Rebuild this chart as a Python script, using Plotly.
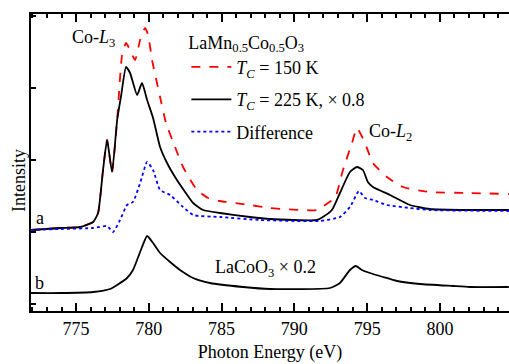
import plotly.graph_objects as go

# ---- data ----
energy_a = [771.9, 773.9, 775.27, 776.17, 776.51, 776.85, 777.13, 777.47, 777.82, 778.09, 778.43,
            778.71, 779.19, 779.53, 779.88, 780.29, 780.77, 781.25, 781.8, 782.49, 783.04, 783.72,
            784.89, 786.95, 788.32, 791.55, 791.96, 792.58, 793.13, 793.82, 794.3, 794.71, 795.05,
            795.4, 796.57, 797.94, 799.31, 802.06, 804.74]
tc225 = [74, 76, 77, 82, 91, 134, 164, 132, 184, 208, 237, 231, 209, 221, 204, 186, 157, 141, 127,
         112, 101, 94, 91, 87, 85, 84, 87, 94, 111, 132, 137, 134, 122, 117, 109, 99, 95, 94, 94]

energy_r = [771.9, 773.9, 775.27, 776.17, 776.51, 776.85, 777.13, 777.47, 777.82, 778.16, 778.43,
            778.71, 779.05, 779.4, 779.74, 779.95, 780.22, 780.77, 781.18, 781.8, 782.35, 783.31,
            784.07, 784.89, 786.95, 788.32, 791.55, 792.1, 792.79, 793.34, 793.96, 794.3, 794.85,
            795.4, 796.36, 797.46, 799.31, 802.06, 804.74]
tc150 = [74, 76, 77, 82, 91, 134, 164, 132, 184, 249, 261, 254, 244, 264, 276, 269, 244, 207, 181,
         157, 137, 114, 106, 103, 99, 96, 94, 99, 106, 134, 161, 176, 161, 141, 127, 117, 112, 111, 110]

energy_d = [771.9, 773.9, 776.17, 777.13, 777.54, 778.02, 778.5, 778.91, 779.4, 779.88, 780.29,
            780.77, 781.46, 782.35, 783.04, 784.89, 787.64, 791.76, 793.13, 793.82, 794.44, 794.85,
            795.4, 796.36, 797.94, 799.31, 804.74]
diff = [74, 75, 76, 78, 72, 84, 99, 102, 121, 142, 134, 114, 109, 97, 89, 87, 84, 83, 87, 97, 113,
        106, 104, 99, 96, 94, 93]

energy_b = [771.9, 773.9, 776.17, 777.34, 777.82, 778.5, 778.91, 779.53, 779.88, 780.29, 780.77,
            781.46, 782.14, 783.04, 784.2, 786.47, 788.32, 792.45, 793.13, 793.82, 794.23, 794.64,
            795.19, 796.09, 797.05, 798.63, 800.89, 802.06, 804.74]
lacoo3 = [11, 11, 12, 15, 19, 26, 34, 57, 68, 61, 51, 42, 34, 26, 21, 17, 15, 16, 21, 34, 38, 34,
          31, 27, 23, 20, 18, 17, 17]

FONT = "Times New Roman, Liberation Serif, serif"

fig = go.Figure()
fig.add_trace(go.Scatter(x=energy_r, y=tc150, mode="lines", legendgroup="g1",
                         name="<i>T</i><sub><i>C</i></sub> = 150 K",
                         line=dict(color="#FF0000", width=1.8, dash="dash", shape="spline", smoothing=0.5)))
fig.add_trace(go.Scatter(x=energy_a, y=tc225, mode="lines", legendgroup="g2",
                         name="<i>T</i><sub><i>C</i></sub> = 225 K, × 0.8",
                         line=dict(color="black", width=1.8, shape="spline", smoothing=0.5)))
fig.add_trace(go.Scatter(x=energy_d, y=diff, mode="lines", legendgroup="g3",
                         name="Difference",
                         line=dict(color="#0000FF", width=1.8, dash="dot", shape="spline", smoothing=0.5)))
fig.add_trace(go.Scatter(x=energy_b, y=lacoo3, mode="lines", showlegend=False,
                         line=dict(color="black", width=1.8, shape="spline", smoothing=0.5)))

fig.update_layout(
    width=509, height=364,
    margin=dict(l=31, r=0, t=14, b=53),
    plot_bgcolor="white", paper_bgcolor="white",
    font=dict(family=FONT, size=18, color="black"),
    showlegend=True,
    legend=dict(x=0.325, y=0.962, xanchor="left", yanchor="top",
                bgcolor="rgba(0,0,0,0)", tracegroupgap=6, itemwidth=40,
                title=dict(text="LaMn<sub>0.5</sub>Co<sub>0.5</sub>O<sub>3</sub>",
                           font=dict(family=FONT, size=18)),
                font=dict(family=FONT, size=18)),
    xaxis=dict(range=[771.9, 804.75], tickmode="linear", tick0=775, dtick=5,
               ticks="inside", ticklen=8, tickwidth=1.5, tickcolor="black",
               showline=True, linecolor="black", linewidth=2, mirror="ticks",
               showgrid=False, zeroline=False,
               minor=dict(dtick=1, ticks="inside", ticklen=4, tickwidth=1.5, tickcolor="black", showgrid=False),
               tickfont=dict(family=FONT, size=18),
               title=dict(text="Photon Energy (eV)", font=dict(family=FONT, size=18), standoff=8)),
    yaxis=dict(range=[-7, 290], tickmode="linear", tick0=0, dtick=72,
               ticks="inside", ticklen=5, tickwidth=1.5, tickcolor="black",
               showticklabels=False, showline=True, linecolor="black", linewidth=2,
               mirror=False, showgrid=False, zeroline=False),
)

ann = [
    dict(text="Co-<i>L</i><sub>3</sub>", x=776.2, y=266),
    dict(text="Co-<i>L</i><sub>2</sub>", x=796.6, y=172),
    dict(text="LaCoO<sub>3</sub> × 0.2", x=788.0, y=36),
    dict(text="a", x=772.5, y=86),
    dict(text="b", x=772.5, y=21),
]
for a in ann:
    fig.add_annotation(text=a["text"], x=a["x"], y=a["y"], xref="x", yref="y",
                       showarrow=False, font=dict(family=FONT, size=18, color="black"))
fig.add_annotation(text="Intensity", textangle=-90, xref="x domain", yref="y domain",
                   x=(7 - 31) / 478, y=(311 - 181) / 297,
                   showarrow=False, font=dict(family=FONT, size=18, color="black"))

fig.write_html("out.html")
